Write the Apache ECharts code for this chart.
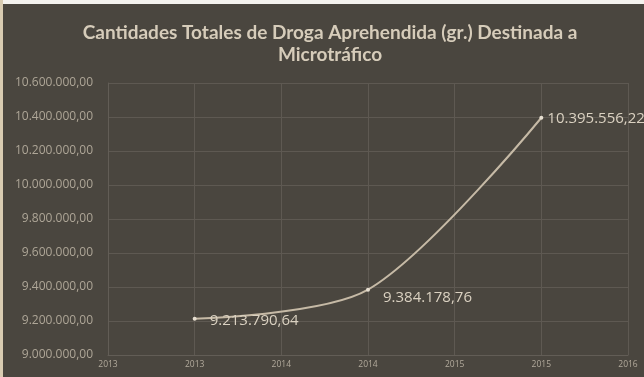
<!DOCTYPE html>
<html>
<head>
<meta charset="utf-8">
<script src="https://cdn.jsdelivr.net/npm/echarts@6/dist/echarts.min.js"></script>
<style>
html,body{margin:0;padding:0;background:#4a463f;}
#c{width:644px;height:377px;}
</style>
</head>
<body>
<div id="c"></div>
<script>
var titleText = 'Cantidades Totales de Droga Aprehendida (gr.) Destinada a\nMicrotráfico';
var xPositions = [2013.5, 2014.5, 2015.5];
var values = [9213790.64, 9384178.76, 10395556.22];
var labelOffsets = [[4, 2], [4, 8], [-5, 1]];
var yMin = 9000000, yMax = 10600000, yStep = 200000;
var xMin = 2013, xMax = 2016, xStep = 0.5;

function fmtNum(v) {
  var fixed = Number(v).toFixed(2);
  var parts = fixed.split('.');
  var ip = parts[0].replace(/\B(?=(\d{3})+(?!\d))/g, '.');
  return ip + ',' + parts[1];
}

var chart = echarts.init(document.getElementById('c'), null, {renderer: 'canvas'});
var seriesData = values.map(function (v, i) {
  return {
    value: [xPositions[i], v],
    label: {offset: labelOffsets[i]}
  };
});

chart.setOption({
  backgroundColor: '#4a463f',
  animation: false,
  graphic: [
    {type: 'rect', shape: {x: 0, y: 0, width: 644, height: 4}, style: {fill: '#f4f2ee'}, silent: true},
    {type: 'rect', shape: {x: 0, y: 0, width: 3, height: 377}, style: {fill: '#d9ccb2'}, silent: true},
    {
      type: 'text', x: 330, y: 22, silent: true,
      style: {
        text: titleText,
        textAlign: 'center',
        textVerticalAlign: 'top',
        fill: '#d6ccba',
        font: 'bold 19px Lato',
        lineHeight: 22
      }
    }
  ],
  grid: {left: 108, right: 16, top: 83, bottom: 22, containLabel: false},
  xAxis: {
    type: 'value',
    min: xMin, max: xMax, interval: xStep,
    axisLine: {show: true, lineStyle: {color: '#625d56'}},
    axisTick: {show: false},
    splitLine: {show: true, lineStyle: {color: '#5e5952', width: 1}},
    axisLabel: {
      color: '#b2aa9c', fontFamily: 'Open Sans', fontSize: 8.5, margin: 5,
      formatter: function (v) { return String(Math.floor(v)); }
    }
  },
  yAxis: {
    type: 'value',
    min: yMin, max: yMax, interval: yStep,
    axisLine: {show: true, lineStyle: {color: '#625d56'}},
    axisTick: {show: false},
    splitLine: {show: true, lineStyle: {color: '#5e5952', width: 1}},
    axisLabel: {
      color: '#aea697', fontFamily: 'Open Sans', fontSize: 12, margin: 15,
      formatter: function (v) { return fmtNum(v); }
    }
  },
  series: [{
    type: 'line',
    data: seriesData,
    smooth: 0.3,
    symbol: 'circle',
    symbolSize: 4,
    itemStyle: {color: '#e6ded0'},
    lineStyle: {color: '#c6baa6', width: 2},
    label: {
      show: true,
      position: 'right',
      distance: 9,
      color: '#dad1c1',
      fontFamily: 'Open Sans',
      fontSize: 15,
      formatter: function (p) { return fmtNum(p.value[1]); }
    }
  }]
});
</script>
</body>
</html>
